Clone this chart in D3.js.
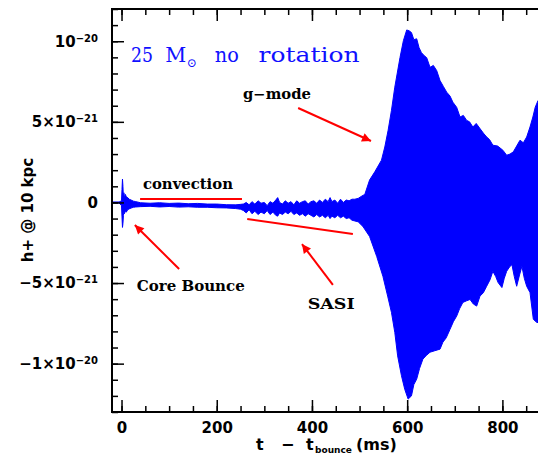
<!DOCTYPE html>
<html>
<head>
<meta charset="utf-8">
<script src="https://cdn.jsdelivr.net/npm/d3@7"></script>
<style>
  body { margin: 0; background: #fff; }
  svg { display: block; }
</style>
</head>
<body>
<div id="chart"></div>
<script>
// h+ envelope of the signal, in units of 1e-21
const upT = [-20, -5, 0, 1, 2, 3, 4, 5, 6, 8, 10, 13, 16, 20, 25, 30,
  40, 60, 80, 100, 120, 140, 160, 180, 200, 220, 240, 250,
  256, 262, 268, 274, 280, 287, 293, 300, 306, 312, 318, 324, 328, 332, 338, 344, 350, 356, 362, 368,
  374, 380, 386, 392, 398, 404, 410, 416, 422, 428, 434, 438, 442, 448, 454, 460, 466, 472, 478, 484, 490,
  497, 505, 511, 521, 532, 546, 553, 560, 567, 574, 585, 592, 599, 604, 609, 614, 620, 625, 630, 636,
  641, 648, 655, 662, 669, 676, 683, 690, 696, 704, 711, 718, 725, 731, 738, 745, 753, 760, 767, 773,
  780, 790, 801, 809, 816, 823, 830, 837, 844, 851, 858, 864, 869, 875, 885, 900];
const upH = [0.03, 0.03, 0.1, 0.8, 1.45, 1.0, 0.2, 0.6, 0.3, 0.5, 0.35, 0.3, 0.2, 0.15, 0.08, 0.05,
  -0.02, -0.05, -0.02, -0.06, -0.04, -0.08, -0.06, -0.1, -0.1, -0.14, -0.15, -0.12,
  -0.1, 0.0, -0.15, 0.05, -0.1, 0.1, -0.05, 0.0, -0.2, 0.05, -0.05, 0.15, 0.3, 0.0, -0.1, 0.1, -0.05, 0.05, -0.15, 0.1,
  -0.05, 0.05, 0.1, -0.1, 0.05, 0.1, -0.05, 0.15, 0.0, 0.2, 0.05, 0.3, 0.05, 0.15, -0.05, 0.2, 0.0, 0.15, 0.1, 0.2, 0.2,
  0.25, 0.4, 0.5, 1.39, 1.9, 2.62, 3.44, 4.48, 5.71, 7.15, 9.0, 10.03, 10.7, 10.65, 10.54, 10.1, 10.15, 9.6, 9.29, 9.1,
  8.98, 8.38, 8.5, 8.18, 7.56, 7.2, 6.84, 6.6, 6.22, 5.9, 5.3, 5.4, 5.09, 5.0, 4.68, 4.9, 4.58, 4.3, 4.06, 3.9,
  3.55, 3.5, 3.24, 2.93, 3.0, 3.14, 3.5, 3.86, 3.7, 4.06, 4.68, 5.3, 5.91, 6.33, 6.6, 6.8];

const loT = [-20, -5, 0, 1, 2, 3, 4, 5, 6, 8, 10, 13, 16, 20, 25, 30,
  40, 60, 80, 100, 120, 140, 160, 180, 200, 220, 240, 250,
  256, 262, 268, 274, 280, 287, 293, 300, 306, 312, 318, 324, 328, 332, 338, 344, 350, 356, 362, 368,
  374, 380, 386, 392, 398, 404, 410, 416, 422, 428, 434, 438, 442, 448, 454, 460, 466, 472, 478, 484, 490,
  497, 507, 521, 536, 549, 559, 567, 574, 580, 588, 595, 602, 609, 614, 620, 626, 633, 640, 648, 658,
  669, 675, 682, 690, 697, 704, 710, 717, 725, 732, 739, 746, 753, 760, 767, 774, 780, 786, 791, 799,
  804, 809, 815, 820, 825, 830, 836, 841, 846, 851, 858, 865, 872, 885, 900];
const loH = [-0.03, -0.03, -0.2, -0.9, -1.55, -1.3, -0.8, -0.6, -0.7, -0.55, -0.6, -0.45, -0.4, -0.35, -0.3, -0.28,
  -0.26, -0.24, -0.28, -0.25, -0.29, -0.27, -0.3, -0.3, -0.33, -0.34, -0.38, -0.42,
  -0.5, -0.65, -0.45, -0.7, -0.55, -0.75, -0.6, -0.7, -0.5, -0.75, -0.6, -0.8, -0.85, -0.65, -0.75, -0.6, -0.7, -0.55, -0.75, -0.65,
  -0.8, -0.7, -0.85, -0.7, -0.8, -0.9, -0.75, -0.9, -0.8, -0.95, -0.8, -1.0, -0.85, -0.95, -0.8, -0.95, -0.85, -1.0, -0.95, -1.1, -1.15,
  -1.2, -1.49, -2.11, -3.35, -4.58, -5.81, -6.82, -8.06, -9.52, -10.75, -11.6, -12.2, -12.0, -11.3, -10.96, -10.3, -9.72, -9.5, -9.29, -9.2,
  -9.1, -8.67, -8.4, -7.87, -7.4, -7.05, -6.6, -6.2, -6.1, -6.02, -6.3, -6.43, -5.81, -5.6, -5.2, -4.8, -4.27, -4.6, -4.97, -5.28,
  -4.7, -4.27, -4.0, -3.86, -4.6, -5.2, -4.5, -3.96, -4.7, -5.2, -5.59, -7.25, -7.44, -7.5, -7.6];

const xTicks = [0, 200, 400, 600, 800];
const xMinor = d3.range(0, 901, 50);
const yTicks = [-10, -5, 0, 5, 10];
const yMinor = d3.range(-13, 13, 1);

// annotations, placed in data coordinates
const labels = [
  {text: "convection", t: 45, h: 0.83, w: 90},
  {text: "Core Bounce", t: 32, h: -5.5, w: 108},
  {text: "g\u2212mode", t: 255, h: 6.4, w: 68},
  {text: "SASI", t: 391, h: -6.6, w: 47}
];
const marks = [
  {t0: 39, h0: 0.21, t1: 253, h1: 0.21, arrow: false},
  {t0: 264, h0: -1.03, t1: 486, h1: -1.96, arrow: false},
  {t0: 121, h0: -4.13, t1: 28, h1: -1.4, arrow: true},
  {t0: 444, h0: -5.12, t1: 379, h1: -2.58, arrow: true},
  {t0: 371, h0: 5.86, t1: 524, h1: 3.81, arrow: true}
];
// title pieces: text, start time, width
const title = [
  {text: "25", t: 20, w: 22},
  {text: "M", t: 92, w: 21},
  {text: "no", t: 196, w: 24},
  {text: "rotation", t: 288, w: 101}
];

const W = 538, H = 457;
const box = {left: 112, right: 550, top: 9, bottom: 412};

const x = d3.scaleLinear().domain([-20, 900]).range([box.left, box.right]);
const y = d3.scaleLinear().domain([-13, 12]).range([box.bottom, box.top]);

const svg = d3.select("#chart").append("svg")
    .attr("width", W)
    .attr("height", H);

const defs = svg.append("defs");
defs.append("clipPath").attr("id", "clip")
  .append("rect")
    .attr("x", box.left).attr("y", box.top)
    .attr("width", box.right - box.left).attr("height", box.bottom - box.top);
defs.append("marker")
    .attr("id", "head")
    .attr("viewBox", "0 0 10 10")
    .attr("refX", 10).attr("refY", 5)
    .attr("markerUnits", "userSpaceOnUse")
    .attr("markerWidth", 12).attr("markerHeight", 9)
    .attr("orient", "auto")
  .append("path")
    .attr("d", "M0,0L10,5L0,10z")
    .attr("fill", "#ff0000");

// the signal: filled between upper and lower envelope
const outline = upT.map((t, i) => [x(t), y(upH[i])])
  .concat(loT.map((t, i) => [x(t), y(loH[i])]).reverse());

svg.append("path")
    .attr("clip-path", "url(#clip)")
    .attr("d", d3.line()(outline) + "Z")
    .attr("fill", "#0000ff")
    .attr("stroke", "#0000ff")
    .attr("stroke-width", 1)
    .attr("stroke-linejoin", "round");

// axes, ticks pointing inwards on all four sides
const tickFont = "'DejaVu Sans', sans-serif";

function styleAxis(g) {
  g.select(".domain").remove();
  g.selectAll(".tick line").attr("stroke", "#000").attr("stroke-width", 1.5);
  g.selectAll(".tick text")
    .attr("fill", "#000")
    .attr("font-family", tickFont)
    .attr("font-weight", "bold")
    .attr("font-size", 15);
}

svg.append("g").attr("transform", `translate(0,${box.bottom})`)
  .call(d3.axisBottom(x).tickValues(xMinor).tickSize(-6).tickFormat(""))
  .call(styleAxis);
svg.append("g").attr("transform", `translate(0,${box.top})`)
  .call(d3.axisTop(x).tickValues(xMinor).tickSize(-6).tickFormat(""))
  .call(styleAxis);
svg.append("g").attr("transform", `translate(0,${box.top})`)
  .call(d3.axisTop(x).tickValues(xTicks).tickSize(-12).tickFormat(""))
  .call(styleAxis);
svg.append("g").attr("transform", `translate(0,${box.bottom})`)
  .call(d3.axisBottom(x).tickValues(xTicks).tickSize(-12).tickPadding(10).tickFormat(d3.format("d")))
  .call(styleAxis);

svg.append("g").attr("transform", `translate(${box.left},0)`)
  .call(d3.axisLeft(y).tickValues(yMinor).tickSize(-6).tickFormat(""))
  .call(styleAxis);
svg.append("g").attr("transform", `translate(${box.right},0)`)
  .call(d3.axisRight(y).tickValues(yMinor).tickSize(-6).tickFormat(""))
  .call(styleAxis);
svg.append("g").attr("transform", `translate(${box.right},0)`)
  .call(d3.axisRight(y).tickValues(yTicks).tickSize(-12).tickFormat(""))
  .call(styleAxis);

const gy = svg.append("g").attr("transform", `translate(${box.left},0)`)
  .call(d3.axisLeft(y).tickValues(yTicks).tickSize(-12).tickPadding(14))
  .call(styleAxis);

// y labels as a x 10^n, values are in 1e-21
gy.selectAll(".tick text").each(function(d) {
  const t = d3.select(this).text("");
  if (d === 0) { t.text("0"); return; }
  const p = Math.floor(Math.log10(Math.abs(d)));
  const mant = Math.abs(d) / Math.pow(10, p);
  const pre = (d > 0 && mant === 1) ? "10" : (d < 0 ? "\u2212" : "") + mant + "\u00d710";
  t.append("tspan").text(pre);
  t.append("tspan").attr("dy", "-0.5em").attr("font-size", 10).text("\u2212" + Math.abs(p - 21));
});

// frame
svg.append("rect")
    .attr("x", box.left).attr("y", box.top)
    .attr("width", box.right - box.left).attr("height", box.bottom - box.top)
    .attr("fill", "none")
    .attr("stroke", "#000")
    .attr("stroke-width", 2);

// axis titles
const xl = svg.append("text")
    .attr("y", 450)
    .attr("font-family", tickFont)
    .attr("font-weight", "bold")
    .attr("font-size", 16)
    .attr("fill", "#000");
xl.append("tspan").attr("x", 256).text("t");
xl.append("tspan").attr("x", 281).text("\u2212");
xl.append("tspan").attr("x", 306).text("t");
xl.append("tspan").attr("x", 315).attr("dy", 3).attr("font-size", 9).text("bounce");
xl.append("tspan").attr("x", 356).attr("dy", -3).text("(ms)");

svg.append("text")
    .attr("transform", "translate(33,210) rotate(-90)")
    .attr("text-anchor", "middle")
    .attr("font-family", tickFont)
    .attr("font-weight", "bold")
    .attr("font-size", 15)
    .attr("fill", "#000")
    .text("h+ @ 10 kpc");

// model title in blue
const blue = "#1010ff";
const titleFont = "'DejaVu Serif', serif";
svg.selectAll(".title")
  .data(title)
  .enter().append("text")
    .attr("class", "title")
    .attr("x", d => x(d.t)).attr("y", y(8.7))
    .attr("font-family", titleFont).attr("font-size", 21).attr("fill", blue)
    .attr("textLength", d => d.w).attr("lengthAdjust", "spacingAndGlyphs")
    .text(d => d.text);
svg.append("text")
    .attr("x", x(137)).attr("y", y(8.4))
    .attr("font-family", titleFont).attr("font-size", 12).attr("fill", blue)
    .text("\u2299");

// red annotation lines and arrows
svg.selectAll(".mark")
  .data(marks)
  .enter().append("line")
    .attr("class", "mark")
    .attr("x1", d => x(d.t0)).attr("y1", d => y(d.h0))
    .attr("x2", d => x(d.t1)).attr("y2", d => y(d.h1))
    .attr("stroke", "#ff0000")
    .attr("stroke-width", 2)
    .attr("marker-end", d => d.arrow ? "url(#head)" : null);

svg.selectAll(".note")
  .data(labels)
  .enter().append("text")
    .attr("class", "note")
    .attr("x", d => x(d.t)).attr("y", d => y(d.h))
    .attr("font-family", titleFont)
    .attr("font-weight", "bold")
    .attr("font-size", 14)
    .attr("fill", "#000")
    .attr("textLength", d => d.w)
    .attr("lengthAdjust", "spacingAndGlyphs")
    .text(d => d.text);
</script>
</body>
</html>
